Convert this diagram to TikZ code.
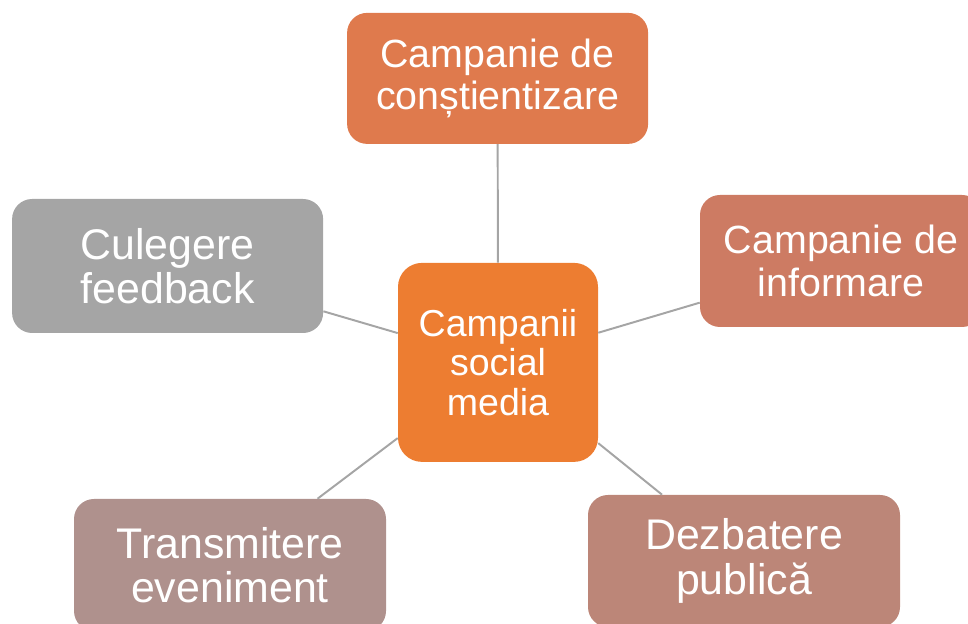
\documentclass[tikz,border=0pt]{standalone}
\usepackage{fontspec}
\setmainfont{Liberation Sans}
\usepackage{tikz}
\definecolor{hubor}{HTML}{ED7D31}
\definecolor{topor}{HTML}{DF7A4D}
\definecolor{rightro}{HTML}{CD7B63}
\definecolor{leftgr}{HTML}{A5A5A5}
\definecolor{blmauve}{HTML}{AF918D}
\definecolor{brro}{HTML}{BC8678}
\definecolor{linkgr}{HTML}{A5A5A5}

\begin{document}
\begin{tikzpicture}[
  smbox/.style={rounded corners=0.5cm,text=white,align=center,inner sep=0pt,font=\fontsize{28}{30}\selectfont},
  smbig/.style={font=\fontsize{30.5}{31.5}\selectfont},
  smlink/.style={draw=linkgr,line width=1.4pt}]
\clip (0,0) rectangle (24.2,15.6);
\node[smbox,fill=hubor,rounded corners=0.6cm,minimum width=5.0cm,minimum height=4.975cm,font=\fontsize{26.7}{28}\selectfont] (sm_hub) at (12.45,6.54) {Campanii\\social\\media};
\node[smbox,fill=topor,minimum width=7.525cm,minimum height=3.275cm] (sm_top) at (12.44,13.64) {Campanie de\\conștientizare};
\node[smbox,fill=rightro,minimum width=7.05cm,minimum height=3.3cm] (sm_right) at (21.025,9.075) {Campanie de\\informare};
\node[smbox,smbig,fill=leftgr,minimum width=7.775cm,minimum height=3.35cm] (sm_left) at (4.19,8.95) {Culegere\\feedback};
\node[smbox,smbig,fill=blmauve,minimum width=7.8cm,minimum height=3.3cm] (sm_bl) at (5.75,1.475) {Transmitere\\eveniment};
\node[smbox,smbig,fill=brro,minimum width=7.8cm,minimum height=3.3cm] (sm_br) at (18.6,1.575) {Dezbatere\\publică};
\draw[smlink] (sm_hub)--(sm_top);
\draw[smlink] (sm_hub)--(sm_right);
\draw[smlink] (sm_hub)--(sm_left);
\draw[smlink] (sm_hub)--(sm_bl);
\draw[smlink] (sm_hub)--(sm_br);
\end{tikzpicture}
\end{document}
